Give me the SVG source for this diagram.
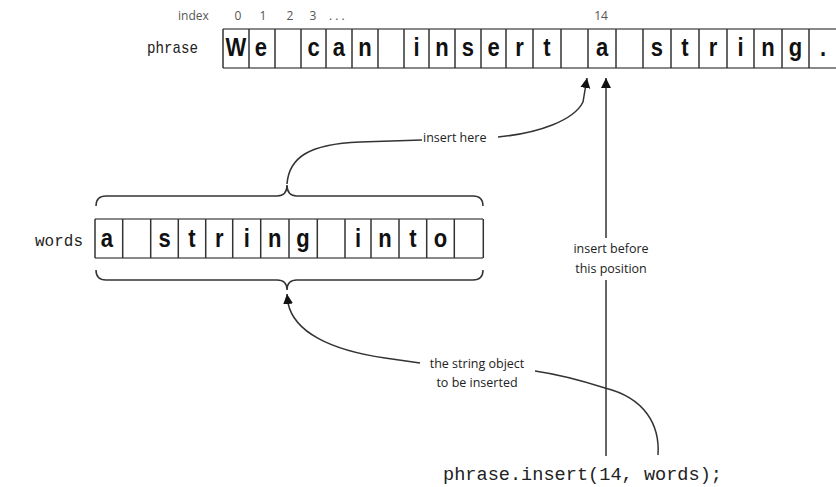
<svg xmlns="http://www.w3.org/2000/svg" width="836" height="487" viewBox="0 0 836 487">
<defs>
<style>
.hline{stroke:#888;stroke-width:2;fill:none}
.vline{stroke:#333;stroke-width:1.5}
.cell{font-family:"Liberation Sans",Arial,sans-serif;font-weight:bold;font-size:22px;fill:#111;text-anchor:middle}
.idx{font-family:"Open Sans","Liberation Sans",sans-serif;font-size:12px;fill:#555}
.lbl{font-family:"Open Sans","Liberation Sans",sans-serif;font-size:12.5px;fill:#222}
.mono{font-family:"Liberation Mono","DejaVu Sans Mono",monospace;fill:#222}
.conn{stroke:#333;stroke-width:1.5;fill:none}
</style>
<marker id="arr" markerWidth="10" markerHeight="12" refX="10" refY="5" orient="auto" markerUnits="userSpaceOnUse" viewBox="0 0 10 10">
<path d="M0,0 L10,5 L0,10 Z" fill="#111"/>
</marker>
</defs>
<rect width="836" height="487" fill="#fff"/>

<g id="index-labels">
<text class="idx" x="178" y="20">index</text>
<text class="idx" x="238" y="20" text-anchor="middle">0</text>
<text class="idx" x="263" y="20" text-anchor="middle">1</text>
<text class="idx" x="290" y="20" text-anchor="middle">2</text>
<text class="idx" x="313" y="20" text-anchor="middle">3</text>
<text class="idx" x="329" y="20">. . .</text>
<text class="idx" x="601" y="20" text-anchor="middle">14</text>
</g>

<g id="phrase">
<text class="mono" x="147" y="53" font-size="17" textLength="51" lengthAdjust="spacingAndGlyphs">phrase</text>
<line class="hline" x1="223" y1="29" x2="840" y2="29"/>
<line class="hline" x1="223" y1="68" x2="840" y2="68"/>
<g class="vline">
<line x1="223" y1="29" x2="223" y2="68"/>
<line x1="249" y1="29" x2="249" y2="68"/>
<line x1="275" y1="29" x2="275" y2="68"/>
<line x1="301" y1="29" x2="301" y2="68"/>
<line x1="326" y1="29" x2="326" y2="68"/>
<line x1="352" y1="29" x2="352" y2="68"/>
<line x1="378" y1="29" x2="378" y2="68"/>
<line x1="404" y1="29" x2="404" y2="68"/>
<line x1="429" y1="29" x2="429" y2="68"/>
<line x1="455" y1="29" x2="455" y2="68"/>
<line x1="481" y1="29" x2="481" y2="68"/>
<line x1="506" y1="29" x2="506" y2="68"/>
<line x1="533" y1="29" x2="533" y2="68"/>
<line x1="561" y1="29" x2="561" y2="68"/>
<line x1="588" y1="29" x2="588" y2="68"/>
<line x1="616" y1="29" x2="616" y2="68"/>
<line x1="643" y1="29" x2="643" y2="68"/>
<line x1="671" y1="29" x2="671" y2="68"/>
<line x1="699" y1="29" x2="699" y2="68"/>
<line x1="727" y1="29" x2="727" y2="68"/>
<line x1="754" y1="29" x2="754" y2="68"/>
<line x1="782" y1="29" x2="782" y2="68"/>
<line x1="809" y1="29" x2="809" y2="68"/>
</g>
<g transform="translate(0,56) scale(1,1.15)">
<text class="cell" x="236" y="0">W</text>
<text class="cell" x="261" y="0">e</text>
<text class="cell" x="313.5" y="0">c</text>
<text class="cell" x="339" y="0">a</text>
<text class="cell" x="365" y="0">n</text>
<text class="cell" x="416.5" y="0">i</text>
<text class="cell" x="442" y="0">n</text>
<text class="cell" x="468" y="0">s</text>
<text class="cell" x="493.5" y="0">e</text>
<text class="cell" x="519.5" y="0">r</text>
<text class="cell" x="547" y="0">t</text>
<text class="cell" x="602" y="0">a</text>
<text class="cell" x="657" y="0">s</text>
<text class="cell" x="685" y="0">t</text>
<text class="cell" x="713" y="0">r</text>
<text class="cell" x="740.5" y="0">i</text>
<text class="cell" x="768" y="0">n</text>
<text class="cell" x="795.5" y="0">g</text>
<text class="cell" x="823" y="0">.</text>
</g>
</g>

<g id="words">
<text class="mono" x="35" y="246" font-size="17" textLength="48" lengthAdjust="spacingAndGlyphs">words</text>
<line class="hline" x1="95" y1="219" x2="483" y2="219"/>
<line class="hline" x1="95" y1="258" x2="483" y2="258"/>
<g class="vline">
<line x1="95" y1="219" x2="95" y2="258"/>
<line x1="122.7" y1="219" x2="122.7" y2="258"/>
<line x1="150.7" y1="219" x2="150.7" y2="258"/>
<line x1="178.3" y1="219" x2="178.3" y2="258"/>
<line x1="205.7" y1="219" x2="205.7" y2="258"/>
<line x1="232.7" y1="219" x2="232.7" y2="258"/>
<line x1="260.7" y1="219" x2="260.7" y2="258"/>
<line x1="289" y1="219" x2="289" y2="258"/>
<line x1="317.3" y1="219" x2="317.3" y2="258"/>
<line x1="345" y1="219" x2="345" y2="258"/>
<line x1="371" y1="219" x2="371" y2="258"/>
<line x1="399" y1="219" x2="399" y2="258"/>
<line x1="426.7" y1="219" x2="426.7" y2="258"/>
<line x1="454.3" y1="219" x2="454.3" y2="258"/>
<line x1="483.3" y1="219" x2="483.3" y2="258"/>
</g>
<g transform="translate(0,246.5) scale(1,1.15)">
<text class="cell" x="107" y="0">a</text>
<text class="cell" x="164.5" y="0">s</text>
<text class="cell" x="192" y="0">t</text>
<text class="cell" x="219.2" y="0">r</text>
<text class="cell" x="246.7" y="0">i</text>
<text class="cell" x="274.8" y="0">n</text>
<text class="cell" x="303" y="0">g</text>
<text class="cell" x="358" y="0">i</text>
<text class="cell" x="385" y="0">n</text>
<text class="cell" x="412.8" y="0">t</text>
<text class="cell" x="440.5" y="0">o</text>
</g>
</g>

<g id="braces">
<path class="conn" d="M96,206 Q96,196 106,196 L277,196 Q287,196 287,185 Q287,196 297,196 L473,196 Q483,196 483,206"/>
<path class="conn" d="M96,270 Q96,280 106,280 L277,280 Q287,280 287,290 Q287,280 297,280 L473,280 Q483,280 483,270"/>
</g>

<g id="labels">
<text class="lbl" x="423" y="142">insert here</text>
<text class="lbl" x="611" y="253" text-anchor="middle">insert before</text>
<text class="lbl" x="611" y="273" text-anchor="middle">this position</text>
<text class="lbl" x="477" y="368" text-anchor="middle">the string object</text>
<text class="lbl" x="477" y="387" text-anchor="middle">to be inserted</text>
<text class="mono" x="443" y="480" font-size="19" textLength="279" lengthAdjust="spacingAndGlyphs">phrase.insert(14, words);</text>
</g>

<g id="connectors">
<path class="conn" d="M287,184 C289,158 308,144 360,142 L422,140"/>
<path class="conn" d="M498,137 C540,133 574,120 583,102 L587,78" marker-end="url(#arr)"/>
<path class="conn" d="M606,238 L606,78" marker-end="url(#arr)"/>
<line class="conn" x1="606" y1="280" x2="606" y2="456"/>
<path class="conn" d="M658,455 C660,425 645,398 605,388 C580,380 556,374 535,371"/>
<path class="conn" d="M420,363 L385,358 C330,350 294,332 288,303 L287,294" marker-end="url(#arr)"/>
</g>
</svg>
